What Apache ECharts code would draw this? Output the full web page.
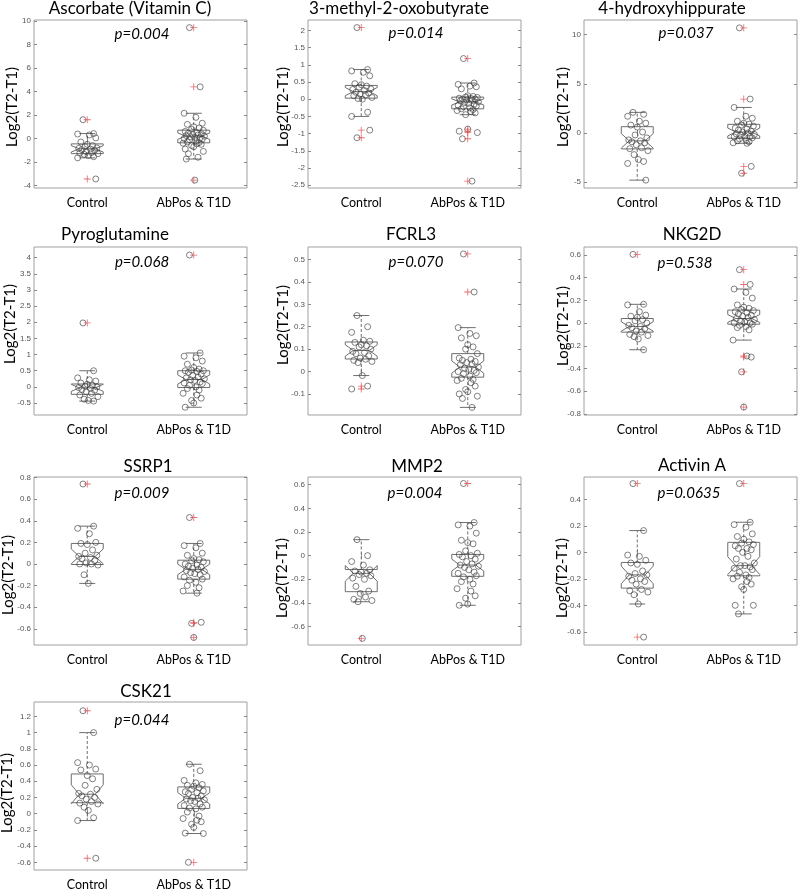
<!DOCTYPE html>
<html>
<head>
<meta charset="utf-8">
<script src="https://cdn.jsdelivr.net/npm/echarts@6/dist/echarts.min.js"></script>
<style>
  html, body { margin: 0; padding: 0; background: #fff; }
  #chart { width: 799px; height: 889px; }
</style>
</head>
<body>
<div id="chart"></div>
<script>
// groups and panel texts
var groups = ['Control', 'AbPos & T1D'];
var titles = ['Ascorbate (Vitamin C)', '3-methyl-2-oxobutyrate', '4-hydroxyhippurate',
  'Pyroglutamine', 'FCRL3', 'NKG2D', 'SSRP1', 'MMP2', 'Activin A', 'CSK21'];
var pValues = ['p=0.004', 'p=0.014', 'p=0.037', 'p=0.068', 'p=0.070',
  'p=0.538', 'p=0.009', 'p=0.004', 'p=0.0635', 'p=0.044'];

// y ranges and tick labels
var yMin = [-4.22, -2.58, -5.6, -0.87, -0.194, -0.81, -0.75, -0.756, -0.70, -0.695];
var yMax = [10.1, 2.3, 11.5, 4.33, 0.556, 0.67, 0.805, 0.665, 0.57, 1.378];
var yTicks = [
  [-4, -2, 0, 2, 4, 6, 8, 10],
  [-2.5, -2, -1.5, -1, -0.5, 0, 0.5, 1, 1.5, 2],
  [-5, 0, 5, 10],
  [-0.5, 0, 0.5, 1, 1.5, 2, 2.5, 3, 3.5, 4],
  [-0.1, 0, 0.1, 0.2, 0.3, 0.4, 0.5],
  [-0.8, -0.6, -0.4, -0.2, 0, 0.2, 0.4, 0.6],
  [-0.6, -0.4, -0.2, 0, 0.2, 0.4, 0.6, 0.8],
  [-0.6, -0.4, -0.2, 0, 0.2, 0.4, 0.6],
  [-0.6, -0.4, -0.2, 0, 0.2, 0.4],
  [-0.6, -0.4, -0.2, 0, 0.2, 0.4, 0.6, 0.8, 1, 1.2]
];

// observed values per group (Control / AbPos & T1D)
var ascorbateCtrl = [1.6, 0.42, 0.38, 0.3, 0.05, -0.3, -0.5, -0.6, -0.7, -0.8, -0.85, -0.9, -0.95, -1.0, -1.1, -1.2, -1.25, -1.3, -1.35, -1.45, -1.55, -1.65, -3.45];
var ascorbateAb = [9.45, 4.4, 2.15, 1.8, 1.3, 1.2, 1.0, 0.9, 0.8, 0.7, 0.6, 0.5, 0.45, 0.4, 0.35, 0.3, 0.25, 0.2, 0.15, 0.1, 0.05, 0.0, -0.05, -0.1, -0.2, -0.3, -0.35, -0.4, -0.45, -0.5, -0.6, -0.7, -0.9, -1.1, -1.3, -1.6, -1.75, -3.55];
var methylCtrl = [2.08, 0.86, 0.82, 0.78, 0.68, 0.45, 0.42, 0.38, 0.35, 0.3, 0.28, 0.25, 0.2, 0.18, 0.15, 0.12, 0.1, 0.05, 0.02, 0.0, -0.38, -0.5, -0.9, -1.12];
var methylAb = [1.18, 0.47, 0.43, 0.38, 0.36, 0.3, 0.1, 0.08, 0.06, 0.05, 0.03, 0.02, 0.0, 0.0, -0.02, -0.04, -0.05, -0.08, -0.1, -0.12, -0.15, -0.18, -0.2, -0.22, -0.25, -0.28, -0.3, -0.33, -0.36, -0.4, -0.45, -0.87, -0.93, -0.97, -1.15, -2.38];
var hippurateCtrl = [2.1, 1.9, 1.7, 1.2, 1.0, 0.8, 0.6, 0.1, -0.2, -0.5, -0.7, -0.8, -0.9, -1.0, -1.2, -1.5, -1.6, -1.8, -2.2, -2.7, -2.9, -3.1, -4.8];
var hippurateAb = [10.7, 3.45, 2.6, 1.7, 1.5, 1.2, 1.0, 0.9, 0.8, 0.7, 0.5, 0.4, 0.3, 0.2, 0.1, 0.0, -0.1, -0.15, -0.2, -0.3, -0.35, -0.4, -0.5, -0.6, -0.7, -0.8, -0.9, -1.0, -1.05, -3.4, -4.1];
var pyroCtrl = [1.98, 0.5, 0.28, 0.22, 0.18, 0.12, 0.08, 0.05, 0.02, 0.0, -0.02, -0.05, -0.08, -0.1, -0.15, -0.2, -0.25, -0.3, -0.38, -0.42, -0.44];
var pyroAb = [4.08, 1.05, 0.95, 0.9, 0.8, 0.7, 0.6, 0.55, 0.52, 0.5, 0.5, 0.48, 0.45, 0.4, 0.35, 0.3, 0.28, 0.25, 0.22, 0.2, 0.15, 0.12, 0.1, 0.05, 0.0, -0.05, -0.1, -0.2, -0.25, -0.35, -0.42, -0.5, -0.63];
var fcrl3Ctrl = [0.25, 0.2, 0.175, 0.14, 0.135, 0.13, 0.12, 0.115, 0.11, 0.1, 0.09, 0.085, 0.08, 0.07, 0.06, 0.055, 0.05, 0.045, 0.04, -0.018, -0.065, -0.078];
var fcrl3Ab = [0.525, 0.355, 0.196, 0.17, 0.16, 0.15, 0.12, 0.11, 0.1, 0.08, 0.06, 0.055, 0.05, 0.045, 0.04, 0.035, 0.03, 0.02, 0.015, 0.01, 0.005, 0.0, -0.005, -0.01, -0.02, -0.03, -0.035, -0.04, -0.05, -0.065, -0.08, -0.09, -0.1, -0.11, -0.12, -0.16];
var nkg2dCtrl = [0.605, 0.165, 0.16, 0.1, 0.07, 0.06, 0.05, 0.03, 0.02, 0.0, -0.02, -0.03, -0.04, -0.05, -0.07, -0.08, -0.1, -0.11, -0.12, -0.14, -0.235];
var nkg2dAb = [0.47, 0.34, 0.3, 0.27, 0.22, 0.16, 0.14, 0.13, 0.12, 0.11, 0.1, 0.09, 0.08, 0.07, 0.06, 0.05, 0.04, 0.03, 0.02, 0.01, 0.0, 0.0, -0.01, -0.02, -0.03, -0.04, -0.06, -0.15, -0.29, -0.3, -0.43, -0.74];
var ssrp1Ctrl = [0.74, 0.35, 0.33, 0.28, 0.2, 0.19, 0.18, 0.13, 0.1, 0.08, 0.07, 0.06, 0.05, 0.03, 0.01, 0.0, 0.0, -0.01, -0.1, -0.18];
var ssrp1Ab = [0.43, 0.19, 0.17, 0.15, 0.1, 0.08, 0.05, 0.04, 0.03, 0.02, 0.0, -0.01, -0.02, -0.03, -0.04, -0.05, -0.06, -0.07, -0.08, -0.09, -0.1, -0.12, -0.14, -0.15, -0.17, -0.2, -0.22, -0.25, -0.27, -0.54, -0.55, -0.68];
var mmp2Ctrl = [0.135, 0.0, -0.05, -0.08, -0.12, -0.13, -0.14, -0.15, -0.16, -0.17, -0.19, -0.2, -0.26, -0.3, -0.32, -0.35, -0.37, -0.38, -0.39, -0.7];
var mmp2Ab = [0.61, 0.28, 0.26, 0.25, 0.19, 0.13, 0.11, 0.1, 0.04, 0.02, 0.01, 0.0, -0.01, -0.03, -0.05, -0.07, -0.08, -0.09, -0.1, -0.12, -0.14, -0.15, -0.17, -0.18, -0.2, -0.22, -0.24, -0.28, -0.3, -0.34, -0.36, -0.41, -0.42];
var activinCtrl = [0.52, 0.165, -0.02, -0.03, -0.06, -0.08, -0.09, -0.14, -0.16, -0.17, -0.18, -0.2, -0.21, -0.22, -0.24, -0.28, -0.29, -0.3, -0.32, -0.39, -0.64];
var activinAb = [0.52, 0.228, 0.21, 0.19, 0.14, 0.12, 0.1, 0.08, 0.07, 0.06, 0.05, 0.03, 0.03, 0.02, 0.0, -0.03, -0.05, -0.08, -0.1, -0.1, -0.11, -0.12, -0.13, -0.15, -0.17, -0.18, -0.19, -0.2, -0.22, -0.24, -0.26, -0.28, -0.4, -0.4, -0.465];
var csk21Ctrl = [1.27, 1.0, 0.63, 0.6, 0.55, 0.54, 0.47, 0.43, 0.35, 0.3, 0.25, 0.24, 0.22, 0.2, 0.18, 0.15, 0.13, 0.12, 0.08, 0.04, -0.05, -0.085, -0.55];
var csk21Ab = [0.61, 0.53, 0.41, 0.38, 0.36, 0.35, 0.34, 0.32, 0.3, 0.28, 0.27, 0.26, 0.25, 0.22, 0.2, 0.19, 0.18, 0.17, 0.16, 0.15, 0.12, 0.1, 0.08, 0.07, 0.06, 0.02, -0.03, -0.06, -0.08, -0.1, -0.13, -0.17, -0.24, -0.245, -0.6];

// box stats: [whisker low, q1, median, q3, whisker high]
var ascorbateBox = [[-1.65, -1.29, -0.88, -0.46, 0.42], [-1.75, -0.37, 0.2, 0.71, 2.15]];
var methylBox = [[-0.5, 0.03, 0.22, 0.4, 0.86], [-0.45, -0.28, -0.08, 0.06, 0.47]];
var hippurateBox = [[-4.8, -1.62, -0.8, 0.64, 2.1], [-1.05, -0.54, 0.1, 0.88, 2.6]];
var pyroBox = [[-0.44, -0.23, -0.03, 0.09, 0.5], [-0.63, -0.02, 0.23, 0.5, 1.05]];
var fcrl3Box = [[-0.018, 0.056, 0.094, 0.132, 0.25], [-0.16, -0.025, 0.02, 0.08, 0.196]];
var nkg2dBox = [[-0.235, -0.08, -0.03, 0.04, 0.165], [-0.15, -0.01, 0.04, 0.114, 0.3]];
var ssrp1Box = [[-0.18, -0.005, 0.07, 0.19, 0.35], [-0.27, -0.14, -0.05, 0.035, 0.19]];
var mmp2Box = [[-0.39, -0.305, -0.15, -0.117, 0.135], [-0.42, -0.175, -0.08, 0.01, 0.28]];
var activinBox = [[-0.39, -0.27, -0.17, -0.076, 0.165], [-0.465, -0.177, -0.1, 0.076, 0.228]];
var csk21Box = [[-0.085, 0.135, 0.24, 0.49, 1.0], [-0.245, 0.065, 0.19, 0.33, 0.61]];

// horizontal scatter offsets of the circles (category units)
var jitter = [-0.04, 0.06, -0.09, 0.02, 0.08, -0.06, 0.0, 0.05, -0.02, 0.09, -0.08, 0.03, -0.05, 0.07, -0.01,
  0.04, -0.07, 0.1, -0.03, 0.01, 0.06, -0.09, 0.08, -0.04, 0.02, -0.06, 0.05, -0.1, 0.03, 0.07,
  -0.02, 0.0, -0.08, 0.09, -0.05, 0.04, -0.07, 0.01, 0.06, -0.03];

var panelValues = [
  [ascorbateCtrl, ascorbateAb], [methylCtrl, methylAb], [hippurateCtrl, hippurateAb],
  [pyroCtrl, pyroAb], [fcrl3Ctrl, fcrl3Ab], [nkg2dCtrl, nkg2dAb],
  [ssrp1Ctrl, ssrp1Ab], [mmp2Ctrl, mmp2Ab], [activinCtrl, activinAb], [csk21Ctrl, csk21Ab]
];
var panelBoxes = [ascorbateBox, methylBox, hippurateBox, pyroBox, fcrl3Box, nkg2dBox,
  ssrp1Box, mmp2Box, activinBox, csk21Box];

// layout
var colLeft = [34, 308, 584];
var rowTop = [20, 247, 477, 702];
var gridW = 213, gridH = 168;
var titlePos = [[130, 9], [399, 9], [672, 9], [115, 235], [411, 235], [692, 235], [148, 467], [417, 467], [692, 466], [146, 692]];
var pPos = [[142, 34], [416, 33], [686, 33], [142, 262], [416, 262], [685, 263], [142, 493], [415, 493], [689, 493], [142, 720]];
var yNamePos = [[12, 107], [283, 107], [563, 107], [10, 324], [283, 325], [563, 326], [8, 575], [282, 578], [562, 578], [7, 793]];

var chart = echarts.init(document.getElementById('chart'));

var grid = [], xAxis = [], yAxis = [], series = [], graphic = [];
var plusPath = 'path://M0,4.4H10V5.6H0Z M4.4,0H5.6V10H4.4Z';

function renderBox(params, api) {
  var x = api.value(0);
  var wLo = api.value(1), q1 = api.value(2), nLo = api.value(3), med = api.value(4),
      nHi = api.value(5), q3 = api.value(6), wHi = api.value(7);
  var cx = api.coord([x, med])[0];
  var half = api.size([0.3, 0])[0] / 2;
  var ind = half / 2;
  var cap = half / 2;
  function yy(v) { return api.coord([x, v])[1]; }
  var L = cx - half, R = cx + half;
  var line = { stroke: '#6e6e6e', lineWidth: 1, fill: null };
  var dash = { stroke: '#6e6e6e', lineWidth: 1, lineDash: [3, 2] };
  return {
    type: 'group',
    children: [
      { type: 'polygon', shape: { points: [
          [L, yy(q1)], [L, yy(nLo)], [L + ind, yy(med)], [L, yy(nHi)], [L, yy(q3)],
          [R, yy(q3)], [R, yy(nHi)], [R - ind, yy(med)], [R, yy(nLo)], [R, yy(q1)]
        ] }, style: line },
      { type: 'line', shape: { x1: L + ind, y1: yy(med), x2: R - ind, y2: yy(med) }, style: line },
      { type: 'line', shape: { x1: cx, y1: yy(q3), x2: cx, y2: yy(wHi) }, style: dash },
      { type: 'line', shape: { x1: cx, y1: yy(q1), x2: cx, y2: yy(wLo) }, style: dash },
      { type: 'line', shape: { x1: cx - cap, y1: yy(wHi), x2: cx + cap, y2: yy(wHi) }, style: line },
      { type: 'line', shape: { x1: cx - cap, y1: yy(wLo), x2: cx + cap, y2: yy(wLo) }, style: line }
    ]
  };
}

for (var i = 0; i < 10; i++) {
  var col = i % 3, row = Math.floor(i / 3);
  grid.push({
    left: colLeft[col], top: rowTop[row], width: gridW, height: gridH,
    show: true, borderColor: '#a0a0a0', borderWidth: 1, backgroundColor: 'transparent',
    outerBoundsMode: 'none'
  });
  var tickCommon = { show: true, inside: true, length: 3, lineStyle: { color: '#888' } };
  xAxis.push({
    type: 'value', gridIndex: i, min: 0.5, max: 2.5, position: 'bottom',
    axisLine: { show: false }, splitLine: { show: false },
    axisTick: Object.assign({ customValues: [1, 2] }, tickCommon),
    axisLabel: {
      customValues: [1, 2], margin: 8, color: '#000', fontSize: 12.5, fontFamily: 'Lato',
      formatter: function (v) { return groups[Math.round(v) - 1]; }
    }
  });
  xAxis.push({
    type: 'value', gridIndex: i, min: 0.5, max: 2.5, position: 'top',
    axisLine: { show: false }, splitLine: { show: false },
    axisTick: Object.assign({ customValues: [1, 2] }, tickCommon),
    axisLabel: { show: false }
  });
  yAxis.push({
    type: 'value', gridIndex: i, min: yMin[i], max: yMax[i], position: 'left',
    axisLine: { show: false }, splitLine: { show: false },
    axisTick: Object.assign({ customValues: yTicks[i] }, tickCommon),
    axisLabel: { customValues: yTicks[i], margin: 3, color: '#555', fontSize: 8, fontFamily: 'Liberation Sans' }
  });
  yAxis.push({
    type: 'value', gridIndex: i, min: yMin[i], max: yMax[i], position: 'right',
    axisLine: { show: false }, splitLine: { show: false },
    axisTick: Object.assign({ customValues: yTicks[i] }, tickCommon),
    axisLabel: { show: false }
  });

  var vals = panelValues[i], boxes = panelBoxes[i];
  var boxData = [], pts = [], outs = [];
  for (var g = 0; g < 2; g++) {
    var b = boxes[g], n = vals[g].length;
    var notch = 1.57 * (b[3] - b[1]) / Math.sqrt(n);
    boxData.push([g + 1, b[0], b[1], b[2] - notch, b[2], b[2] + notch, b[3], b[4]]);
    vals[g].forEach(function (v, k) {
      pts.push([g + 1 + jitter[k % jitter.length], v]);
      if (v > b[4] + 1e-9 || v < b[0] - 1e-9) outs.push([g + 1, v]);
    });
  }
  series.push({
    type: 'custom', xAxisIndex: 2 * i, yAxisIndex: 2 * i, silent: true, clip: false,
    renderItem: renderBox, encode: { x: 0, y: [1, 2, 3, 4, 5, 6, 7] }, data: boxData, z: 2
  });
  series.push({
    type: 'scatter', xAxisIndex: 2 * i, yAxisIndex: 2 * i, silent: true,
    symbol: 'circle', symbolSize: 6, data: pts, z: 3,
    itemStyle: { color: 'rgba(0,0,0,0)', borderColor: '#3a3a3a', borderWidth: 0.8 }
  });
  series.push({
    type: 'scatter', xAxisIndex: 2 * i, yAxisIndex: 2 * i, silent: true,
    symbol: plusPath, symbolSize: 7, data: outs, z: 4,
    itemStyle: { color: '#e0474c' }
  });

  graphic.push({
    type: 'text', x: titlePos[i][0], y: titlePos[i][1],
    style: { text: titles[i], fill: '#000', font: '17px Lato', textAlign: 'center', textVerticalAlign: 'middle' }
  });
  graphic.push({
    type: 'text', x: pPos[i][0], y: pPos[i][1],
    style: { text: pValues[i], fill: '#000', font: 'italic 15px Lato', textAlign: 'center', textVerticalAlign: 'middle' }
  });
  graphic.push({
    type: 'text', x: yNamePos[i][0], y: yNamePos[i][1], rotation: Math.PI / 2,
    style: { text: 'Log2(T2-T1)', fill: '#000', font: '15px Lato', textAlign: 'center', textVerticalAlign: 'middle' }
  });
}

chart.setOption({
  animation: false,
  backgroundColor: '#fff',
  grid: grid,
  xAxis: xAxis,
  yAxis: yAxis,
  series: series,
  graphic: graphic
});
</script>
</body>
</html>
